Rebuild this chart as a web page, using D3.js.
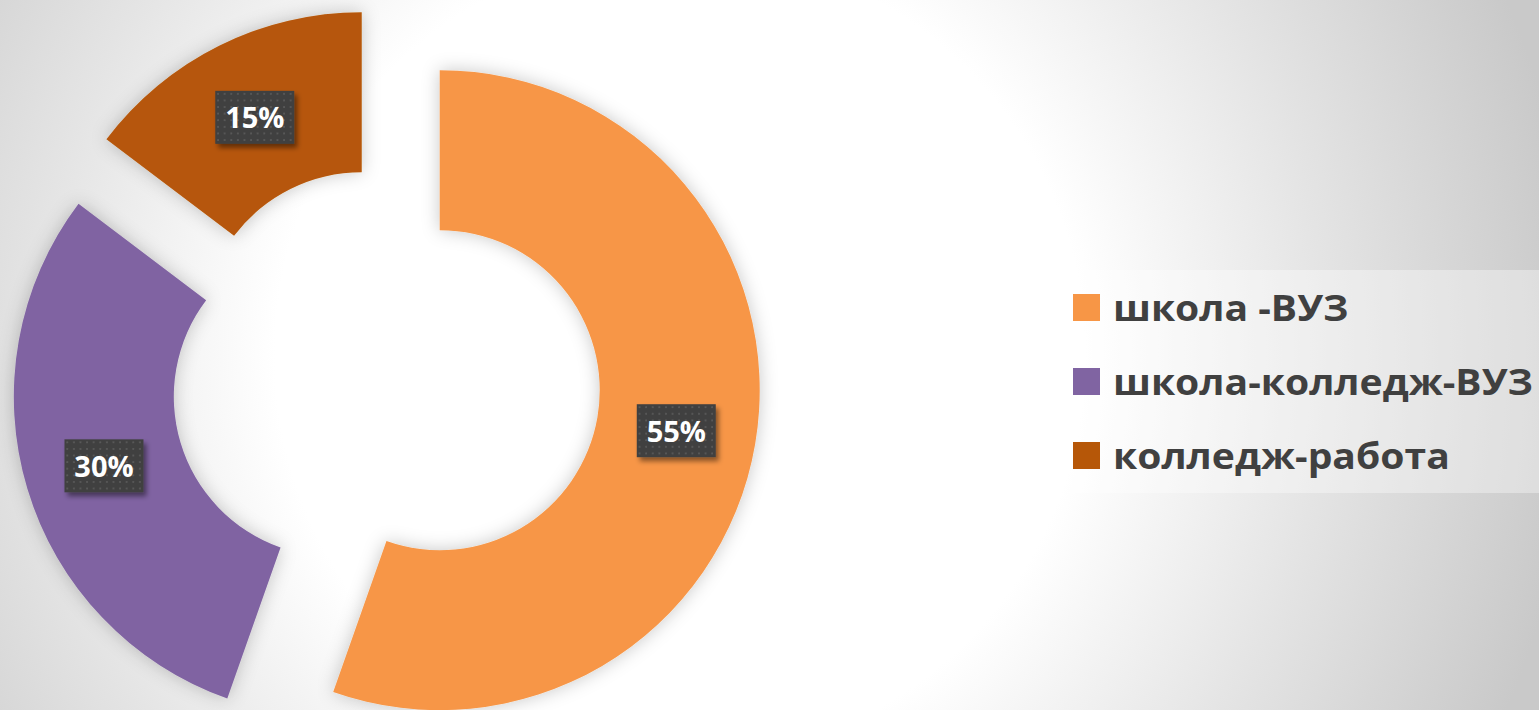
<!DOCTYPE html>
<meta charset="utf-8">
<script src="https://d3js.org/d3.v7.min.js"></script>
<style>
  html, body { margin: 0; padding: 0; overflow: hidden; }
  svg { display: block; }
</style>
<div id="my_dataviz"></div>
<script>

// data
var categories = ["школа -ВУЗ", "школа-колледж-ВУЗ", "колледж-работа"];
var values = [55.4, 29.9, 14.7];
var labels = ["55%", "30%", "15%"];
var colors = ["#F79646", "#8064A2", "#B65708"];

var width = 1539, height = 710;
var cx = 386, cy = 381,
    outerR = 320, innerR = 160,
    explode = 54.5;

var svg = d3.select("#my_dataviz")
  .append("svg")
    .attr("width", width)
    .attr("height", height);

var defs = svg.append("defs");

// slide background
var bg = defs.append("radialGradient")
    .attr("id", "bg")
    .attr("gradientUnits", "userSpaceOnUse")
    .attr("cx", 680).attr("cy", 355).attr("r", 900);
bg.append("stop").attr("offset", 0).attr("stop-color", "#ffffff");
bg.append("stop").attr("offset", 0.45).attr("stop-color", "#ffffff");
bg.append("stop").attr("offset", 0.72).attr("stop-color", "#e4e4e4");
bg.append("stop").attr("offset", 1).attr("stop-color", "#c9c9c9");

svg.append("rect")
    .attr("width", width)
    .attr("height", height)
    .attr("fill", "url(#bg)");

// soft shadow round each slice
var glow = defs.append("filter")
    .attr("id", "glow")
    .attr("x", "-20%").attr("y", "-20%")
    .attr("width", "140%").attr("height", "140%");
glow.append("feGaussianBlur")
    .attr("in", "SourceAlpha")
    .attr("stdDeviation", 9)
    .attr("result", "blur");
glow.append("feFlood").attr("flood-color", "#000").attr("flood-opacity", 0.22);
glow.append("feComposite").attr("in2", "blur").attr("operator", "in").attr("result", "shadow");
var gm = glow.append("feMerge");
gm.append("feMergeNode").attr("in", "shadow");
gm.append("feMergeNode").attr("in", "SourceGraphic");

// label box shadow
var boxShadow = defs.append("filter")
    .attr("id", "boxshadow")
    .attr("x", "-30%").attr("y", "-30%")
    .attr("width", "170%").attr("height", "170%");
boxShadow.append("feDropShadow")
    .attr("dx", 3).attr("dy", 4)
    .attr("stdDeviation", 2.5)
    .attr("flood-color", "#000")
    .attr("flood-opacity", 0.45);

// dotted texture of the label boxes
var dots = defs.append("pattern")
    .attr("id", "dots")
    .attr("patternUnits", "userSpaceOnUse")
    .attr("width", 6.6).attr("height", 6.6);
dots.append("rect").attr("width", 6.6).attr("height", 6.6).attr("fill", "#404040");
dots.append("rect").attr("x", 2).attr("y", 2).attr("width", 1.8).attr("height", 1.8).attr("fill", "#5a5a5a");

// donut
var pie = d3.pie()
    .sort(null)
    .value(function(d) { return d; })
    .startAngle(0)
    .endAngle(2 * Math.PI);

var arc = d3.arc()
    .innerRadius(innerR)
    .outerRadius(outerR);

var arcs = pie(values);

function shift(a) {
  var mid = (a.startAngle + a.endAngle) / 2;
  return [cx + explode * Math.sin(mid), cy - explode * Math.cos(mid)];
}

var slices = svg.append("g")
  .selectAll("g.slice")
  .data(arcs)
  .enter()
  .append("g")
    .attr("class", "slice")
    .attr("transform", function(d) { return "translate(" + shift(d) + ")"; });

slices.append("path")
    .attr("d", arc)
    .attr("fill", function(d, i) { return colors[i]; })
    .attr("filter", "url(#glow)");

// data labels
var boxW = 79, boxH = 53;
var lab = slices.append("g")
    .attr("transform", function(d) { return "translate(" + arc.centroid(d) + ")"; });

lab.append("rect")
    .attr("x", -boxW / 2)
    .attr("y", -boxH / 2)
    .attr("width", boxW)
    .attr("height", boxH)
    .attr("fill", "url(#dots)")
    .attr("filter", "url(#boxshadow)");

lab.append("text")
    .attr("text-anchor", "middle")
    .attr("y", 11)
    .attr("fill", "#ffffff")
    .style("font-family", "'Open Sans', sans-serif")
    .style("font-weight", "bold")
    .style("font-size", "29px")
    .text(function(d, i) { return labels[i]; });

// legend
var legendX = 1055, legendY = 270, legendW = 490, legendH = 223;
svg.append("rect")
    .attr("x", legendX)
    .attr("y", legendY)
    .attr("width", legendW)
    .attr("height", legendH)
    .attr("fill", "#ffffff")
    .attr("fill-opacity", 0.35);

var legend = svg.append("g");
var rows = legend.selectAll("g.item")
  .data(categories)
  .enter()
  .append("g")
    .attr("class", "item")
    .attr("transform", function(d, i) { return "translate(1073," + (294 + i * 74) + ")"; });

rows.append("rect")
    .attr("width", 27)
    .attr("height", 27)
    .attr("fill", function(d, i) { return colors[i]; });

var texts = rows.append("text")
    .attr("x", 40)
    .attr("y", 27)
    .attr("fill", "#404040")
    .style("font-family", "'Open Sans', sans-serif")
    .style("font-weight", "bold")
    .style("font-size", "36px")
    .text(function(d) { return d; });

// squeeze to the narrower width of the original face
var longest = d3.max(texts.nodes(), function(n) { return n.getComputedTextLength(); });
var sx = 420 / longest;
texts.attr("transform", "translate(40,0) scale(" + sx + ",1) translate(-40,0)");

</script>
